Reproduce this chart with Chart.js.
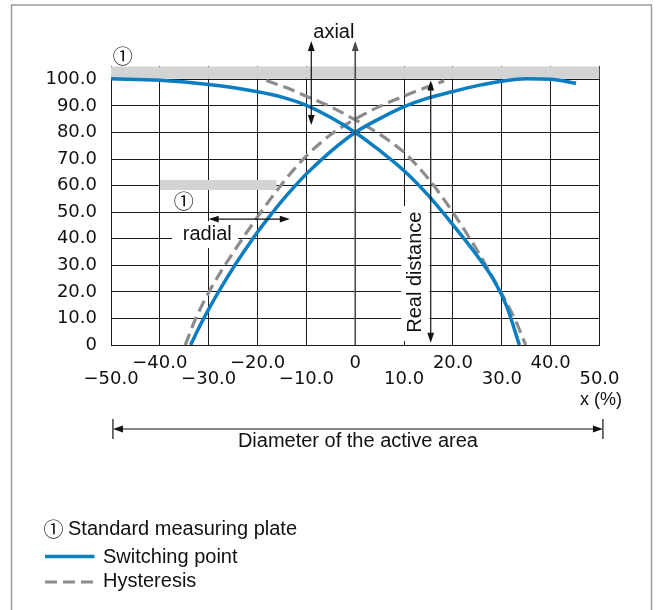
<!DOCTYPE html>
<html>
<head>
<meta charset="utf-8">
<script src="https://cdn.jsdelivr.net/npm/chart.js@4.4.1/dist/chart.umd.min.js"></script>
<style>
html,body{margin:0;padding:0;background:#fff;}
canvas{display:block;}
</style>
</head>
<body>
<canvas id="c" width="656" height="610"></canvas>
<script>
// ---- tick values / labels ----
const xTickValues = [-50, -40, -30, -20, -10, 0, 10, 20, 30, 40, 50];
const xTickLabels = ['−50.0', '−40.0', '−30.0', '−20.0', '−10.0', '0', '10.0', '20.0', '30.0', '40.0', '50.0'];
const yTickValues = [0, 10, 20, 30, 40, 50, 60, 70, 80, 90, 100];
const yTickLabels = ['0', '10.0', '20.0', '30.0', '40.0', '50.0', '60.0', '70.0', '80.0', '90.0', '100.0'];

// ---- Switching point: curve falling from the left ----
const switchFallX = [-50, -40, -30, -20, -15, -10, -5, 0, 5, 10, 15, 20, 25, 28, 31, 33.6];
const switchFallY = [100.2, 99.6, 98.0, 95.3, 93.3, 90.2, 85.6, 80, 73.2, 65.6, 56.2, 45.2, 33.5, 25.5, 14.5, 0];

// ---- Switching point: curve rising to the right ----
const switchRiseX = [-33.7, -32, -30, -27.5, -25, -22.5, -20, -17.5, -15, -12.5, -10, -5, 0, 5, 10, 15, 20, 25, 30, 35, 40, 45.2];
const switchRiseY = [0, 6.5, 13.5, 21.5, 29.0, 35.9, 42.5, 48.5, 54.2, 59.5, 64.4, 72.9, 80, 85.2, 89.7, 93.0, 95.4, 97.6, 99.3, 100.2, 100.0, 98.5];

// ---- Hysteresis: curve rising to the right ----
const hystRiseX = [-34.8, -33, -30, -27.5, -25, -22.5, -20, -17.5, -15, -12.5, -10, -5, 0, 5, 10, 14, 18.2];
const hystRiseY = [0, 8.5, 19.8, 27.6, 34.8, 41.6, 48.2, 54.6, 60.6, 66.2, 71.2, 79.2, 85.0, 89.8, 93.7, 96.6, 99.4];

// ---- Hysteresis: curve falling from the left ----
const hystFallX = [-18.2, -14, -10, -5, 0, 5, 10, 12.5, 15, 17.5, 20, 22.5, 25, 27.5, 30, 33, 34.9];
const hystFallY = [99.5, 96.8, 93.6, 89.6, 84.7, 79.3, 72.5, 67.8, 62.5, 56.5, 49.9, 42.9, 35.5, 27.6, 19.3, 8.4, 0];

// ---- Standard measuring plates (x extent, y bottom/top) ----
const plateAxialX = [-50, 50.2];
const plateAxialY = [100.2, 104.8];
const plateRadialX = [-40, -16.1];
const plateRadialY = [58.3, 62.1];

const legendLabels = ['Standard measuring plate', 'Switching point', 'Hysteresis'];

const BLUE = '#0b7dc1';
const GREY = '#8c8c8c';
const PLATE = '#d2d3d5';
const SANS = '"Liberation Sans", Arial, sans-serif';
const TICKFONT = '"DejaVu Sans", sans-serif';
const CIRCLED = '"Noto Sans CJK JP", "DejaVu Sans", sans-serif';

const pts = (xs, ys) => xs.map((x, i) => ({x: x, y: ys[i]}));

function head(ctx, x, y, dx, dy, len, hw) {
  len = len || 9; hw = hw || 3.2;
  ctx.beginPath();
  ctx.moveTo(x, y);
  ctx.lineTo(x - dx * len - dy * hw, y - dy * len + dx * hw);
  ctx.lineTo(x - dx * len + dy * hw, y - dy * len - dx * hw);
  ctx.closePath();
  ctx.fill();
}

const annot = {
  id: 'annot',
  beforeDraw(chart) {
    const ctx = chart.ctx;
    ctx.save();
    ctx.fillStyle = '#fff';
    ctx.fillRect(0, 0, chart.width, chart.height);
    ctx.strokeStyle = '#9a9a9a';
    ctx.lineWidth = 1.5;
    ctx.strokeRect(11.5, 5, 640, 640);
    ctx.restore();
  },
  beforeDatasetsDraw(chart) {
    const ctx = chart.ctx, xs = chart.scales.x, ys = chart.scales.y;
    ctx.save();
    ctx.fillStyle = '#fff';
    // white box behind "radial"
    let x0 = xs.getPixelForValue(-37.5), x1 = xs.getPixelForValue(-24);
    let y0 = ys.getPixelForValue(46.6), y1 = ys.getPixelForValue(36.5);
    ctx.fillRect(x0, y0, x1 - x0, y1 - y0);
    // white box behind "Real distance"
    x0 = xs.getPixelForValue(9.4); x1 = xs.getPixelForValue(15.2);
    y0 = ys.getPixelForValue(52.3); y1 = ys.getPixelForValue(1.5);
    ctx.fillRect(x0, y0, x1 - x0, y1 - y0);
    ctx.restore();
  },
  afterDatasetsDraw(chart) {
    const ctx = chart.ctx, xs = chart.scales.x, ys = chart.scales.y;
    ctx.save();
    // vertical axis arrow at x = 0
    const ax = xs.getPixelForValue(0);
    ctx.strokeStyle = '#4a4a4a'; ctx.fillStyle = '#4a4a4a'; ctx.lineWidth = 1.6;
    ctx.beginPath(); ctx.moveTo(ax, ys.getPixelForValue(0)); ctx.lineTo(ax, ys.getPixelForValue(113.5)); ctx.stroke();
    head(ctx, ax, ys.getPixelForValue(114.4), 0, -1, 10, 3.4);

    // axial double arrow
    ctx.strokeStyle = '#111'; ctx.fillStyle = '#111'; ctx.lineWidth = 1.2;
    const axX = xs.getPixelForValue(-9);
    const axTop = ys.getPixelForValue(114.4), axBot = ys.getPixelForValue(82.8);
    ctx.beginPath(); ctx.moveTo(axX, axTop + 4); ctx.lineTo(axX, axBot - 4); ctx.stroke();
    head(ctx, axX, axTop, 0, -1, 10, 3.4);
    head(ctx, axX, axBot, 0, 1, 10, 3.4);

    // real distance double arrow
    const rdX = xs.getPixelForValue(15.45);
    const rdTop = ys.getPixelForValue(99.5), rdBot = ys.getPixelForValue(0.8);
    ctx.beginPath(); ctx.moveTo(rdX, rdTop + 4); ctx.lineTo(rdX, rdBot - 4); ctx.stroke();
    head(ctx, rdX, rdTop, 0, -1, 10, 3.4);
    head(ctx, rdX, rdBot, 0, 1, 10, 3.4);

    // radial double arrow
    const raY = ys.getPixelForValue(47.4);
    const raL = xs.getPixelForValue(-30), raR = xs.getPixelForValue(-13.4);
    ctx.beginPath(); ctx.moveTo(raL + 4, raY); ctx.lineTo(raR - 4, raY); ctx.stroke();
    head(ctx, raL, raY, -1, 0, 10, 3.4);
    head(ctx, raR, raY, 1, 0, 10, 3.4);

    // texts
    ctx.fillStyle = '#111';
    ctx.font = '20px ' + SANS;
    ctx.textAlign = 'left'; ctx.textBaseline = 'alphabetic';
    ctx.fillText('axial', axX + 2, ys.getPixelForValue(115.6));
    ctx.textAlign = 'center'; ctx.textBaseline = 'middle';
    ctx.fillText('radial', xs.getPixelForValue(-30.3), ys.getPixelForValue(41.5));
    ctx.save();
    ctx.translate(xs.getPixelForValue(12.4), ys.getPixelForValue(27.4));
    ctx.rotate(-Math.PI / 2);
    ctx.fillText('Real distance', 0, 0);
    ctx.restore();

    // circled markers
    ctx.font = '20px ' + CIRCLED;
    ctx.fillText('①', xs.getPixelForValue(-47.6), ys.getPixelForValue(108.6));
    ctx.fillText('①', xs.getPixelForValue(-35.1), ys.getPixelForValue(54));

    // x unit label
    ctx.font = '18px ' + SANS;
    ctx.fillText('x (%)', xs.getPixelForValue(50.3), 400);

    // diameter arrow
    const dl = xs.getPixelForValue(-49.6), dr = xs.getPixelForValue(50.7);
    const dy = 429;
    ctx.lineWidth = 1.2;
    ctx.beginPath();
    ctx.moveTo(dl, 419); ctx.lineTo(dl, 439);
    ctx.moveTo(dr, 419); ctx.lineTo(dr, 439);
    ctx.moveTo(dl + 4, dy); ctx.lineTo(dr - 4, dy);
    ctx.stroke();
    head(ctx, dl, dy, -1, 0, 10, 3.4);
    head(ctx, dr, dy, 1, 0, 10, 3.4);
    ctx.font = '20px ' + SANS;
    ctx.textBaseline = 'alphabetic';
    ctx.fillText('Diameter of the active area', (dl + dr) / 2, 447);

    // legend
    ctx.textAlign = 'center'; ctx.textBaseline = 'middle';
    ctx.font = '20px ' + CIRCLED;
    ctx.fillText('①', 53.5, 529);
    ctx.textAlign = 'left';
    ctx.font = '20px ' + SANS;
    ctx.fillText(legendLabels[0], 68, 529);
    const ds = chart.data.datasets;
    ctx.lineWidth = ds[0].borderWidth; ctx.strokeStyle = ds[0].borderColor;
    ctx.beginPath(); ctx.moveTo(45, 556.5); ctx.lineTo(94.5, 556.5); ctx.stroke();
    ctx.fillText(legendLabels[1], 103, 557);
    ctx.lineWidth = ds[2].borderWidth; ctx.strokeStyle = ds[2].borderColor;
    ctx.setLineDash(ds[2].borderDash);
    ctx.beginPath(); ctx.moveTo(45, 582); ctx.lineTo(94.5, 582); ctx.stroke();
    ctx.setLineDash([]);
    ctx.fillText(legendLabels[2], 103, 581);
    ctx.restore();
  }
};

const curveBase = {pointRadius: 0, fill: false, cubicInterpolationMode: 'monotone'};

new Chart(document.getElementById('c'), {
  type: 'line',
  data: {
    datasets: [
      Object.assign({label: legendLabels[1], data: pts(switchFallX, switchFallY), borderColor: BLUE, borderWidth: 3.5, order: 0}, curveBase),
      Object.assign({label: legendLabels[1], data: pts(switchRiseX, switchRiseY), borderColor: BLUE, borderWidth: 3.5, order: 0}, curveBase),
      Object.assign({label: legendLabels[2], data: pts(hystRiseX, hystRiseY), borderColor: GREY, borderWidth: 3.2, borderDash: [12, 6], order: 1}, curveBase),
      Object.assign({label: legendLabels[2], data: pts(hystFallX, hystFallY), borderColor: GREY, borderWidth: 3.2, borderDash: [12, 6], order: 1}, curveBase),
      {label: legendLabels[0], data: pts(plateAxialX, [plateAxialY[1], plateAxialY[1]]), borderWidth: 0, pointRadius: 0,
       backgroundColor: PLATE, fill: {value: plateAxialY[0]}, order: 5},
      {label: legendLabels[0], data: pts(plateRadialX, [plateRadialY[1], plateRadialY[1]]), borderWidth: 0, pointRadius: 0,
       backgroundColor: PLATE, fill: {value: plateRadialY[0]}, order: 5}
    ]
  },
  options: {
    responsive: false,
    animation: false,
    devicePixelRatio: 1,
    layout: {padding: {top: 66, right: 56.5, bottom: 205, left: 0}},
    plugins: {legend: {display: false}, tooltip: {enabled: false}},
    scales: {
      x: {
        type: 'linear', min: -50, max: 50,
        afterFit(s) { s.height = 60; },
        grid: {color: '#1a1a1a', lineWidth: 1, drawTicks: false},
        border: {color: '#1a1a1a', width: 1},
        ticks: {
          stepSize: 10, autoSkip: false, maxRotation: 0, minRotation: 0, padding: 10,
          color: '#111',
          font: {family: TICKFONT, size: 18, lineHeight: '16px'},
          callback(v) {
            const k = xTickValues.indexOf(Math.round(v));
            if (k < 0) return '';
            return k % 2 === 0 ? ['', xTickLabels[k]] : xTickLabels[k];
          }
        }
      },
      y: {
        type: 'linear', min: 0, max: 105,
        afterFit(s) { s.width = 111; },
        grid: {color: '#1a1a1a', lineWidth: 1, drawTicks: false},
        border: {color: '#1a1a1a', width: 1},
        ticks: {
          stepSize: 10, includeBounds: false, padding: 14, color: '#111',
          font: {family: TICKFONT, size: 18},
          callback(v) {
            const k = yTickValues.indexOf(Math.round(v));
            return k < 0 ? '' : yTickLabels[k];
          }
        }
      }
    }
  },
  plugins: [annot]
});
</script>
</body>
</html>
